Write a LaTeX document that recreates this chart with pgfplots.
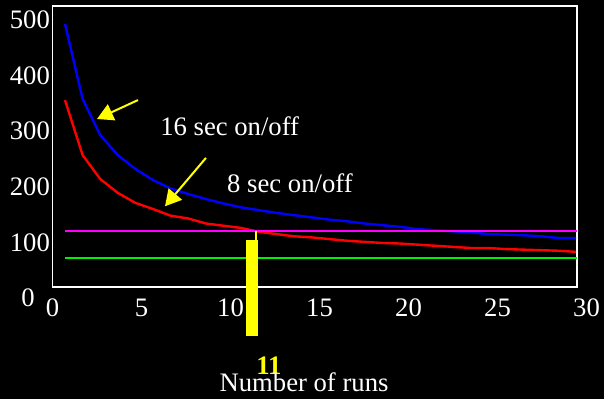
\documentclass[border=0pt]{standalone}
\usepackage{pgfplots}
\pgfplotsset{compat=1.18}
\usepackage{fontspec}
\setmainfont{Liberation Serif}
\usetikzlibrary{arrows.meta}

\definecolor{cblue}{RGB}{0,0,255}
\definecolor{cred}{RGB}{255,0,0}
\definecolor{cmag}{RGB}{255,0,255}
\definecolor{cgreen}{RGB}{0,240,0}
\definecolor{cyell}{RGB}{255,255,0}

\begin{document}
\begin{tikzpicture}
  % black slide background, sized like the reference
  \fill[black, use as bounding box] (0,0) rectangle (453pt,299.25pt);
  \begin{axis}[
      at={(39.4pt,84pt)}, anchor=south west,
      scale only axis, width=393.4pt, height=210.75pt,
      xmin=0, xmax=29.47, ymin=19.8, ymax=525.2,
      clip=false,
      axis line style={white, line width=1.1pt},
      tick style={draw=none},
      xtick={0,5,...,25},
      ytick={100,200,...,500},
      /pgf/number format/assume math mode=true,
      tick label style={white, font=\fontsize{20}{24}\selectfont},
      xticklabel style={anchor=center, yshift=-15.5pt},
      yticklabel style={anchor=east, inner sep=0pt, xshift=-1.8pt},
    ]
    % 16 sec on/off
    \addplot[cblue, line width=1.8pt] coordinates {
      (0.70,493) (1.69,358) (2.68,293) (3.67,257) (4.66,232) (5.65,212)
      (6.64,197) (7.63,187) (8.62,178) (9.61,170) (10.60,163) (11.59,158)
      (12.58,153) (13.57,149) (14.56,145) (15.55,141) (16.54,138) (17.53,134)
      (18.52,131) (19.51,128) (20.50,124) (21.49,122) (22.48,120) (23.47,118)
      (24.46,115) (25.45,114) (26.44,113) (27.43,111) (28.42,108) (29.41,108)
    };
    % 8 sec on/off
    \addplot[cred, line width=1.8pt] coordinates {
      (0.70,356) (1.69,257) (2.68,214) (3.67,189) (4.66,171) (5.65,160)
      (6.64,148) (7.63,143) (8.62,134) (9.61,130) (10.60,126) (11.59,119)
      (12.58,115) (13.57,111) (14.56,109) (15.55,106) (16.54,103) (17.53,101)
      (18.52,99) (19.51,98) (20.50,96) (21.49,94) (22.48,92) (23.47,90)
      (24.46,90) (25.45,88) (26.44,87) (27.43,86) (28.42,85) (29.41,83)
    };
    \addplot[cmag, line width=1.5pt] coordinates {(0.70,121) (29.47,121)};
    \addplot[cgreen, line width=1.5pt] coordinates {(0.70,71.5) (29.47,71.5)};

    % marker at 11 runs
    \fill[cyell] (axis cs:10.87,-68.3) rectangle (axis cs:11.54,104.3);
    \draw[cyell, line width=1.1pt] (axis cs:11.43,104.3) -- (axis cs:11.43,121);
    \node[cyell, font=\fontsize{20}{24}\selectfont\bfseries] at (axis cs:12.16,-122) {11};

    % arrows and labels
    \draw[cyell, line width=1.5pt, -{Triangle[length=12pt,width=13pt]}]
      (axis cs:4.80,356) -- (axis cs:2.50,322);
    \draw[cyell, line width=1.5pt, -{Triangle[length=12pt,width=13pt]}]
      (axis cs:8.62,252) -- (axis cs:6.32,165);
    \node[white, anchor=base west, inner sep=0pt, font=\fontsize{20}{24}\selectfont]
      at (axis cs:6.04,293) {16 sec on/off};
    \node[white, anchor=base west, inner sep=0pt, font=\fontsize{20}{24}\selectfont]
      at (axis cs:9.80,189) {8 sec on/off};

    % labels that sit outside the tick range
    \node[white, font=\fontsize{20}{24}\selectfont] at (axis cs:-1.38,0) {0};
    \node[white, anchor=center, yshift=-15.5pt, font=\fontsize{20}{24}\selectfont]
      at (axis cs:30,19.8) {30};
    \node[white, anchor=base, inner sep=0pt, font=\fontsize{20}{24}\selectfont]
      at (axis cs:14.13,-169) {Number of runs};
  \end{axis}
\end{tikzpicture}
\end{document}
